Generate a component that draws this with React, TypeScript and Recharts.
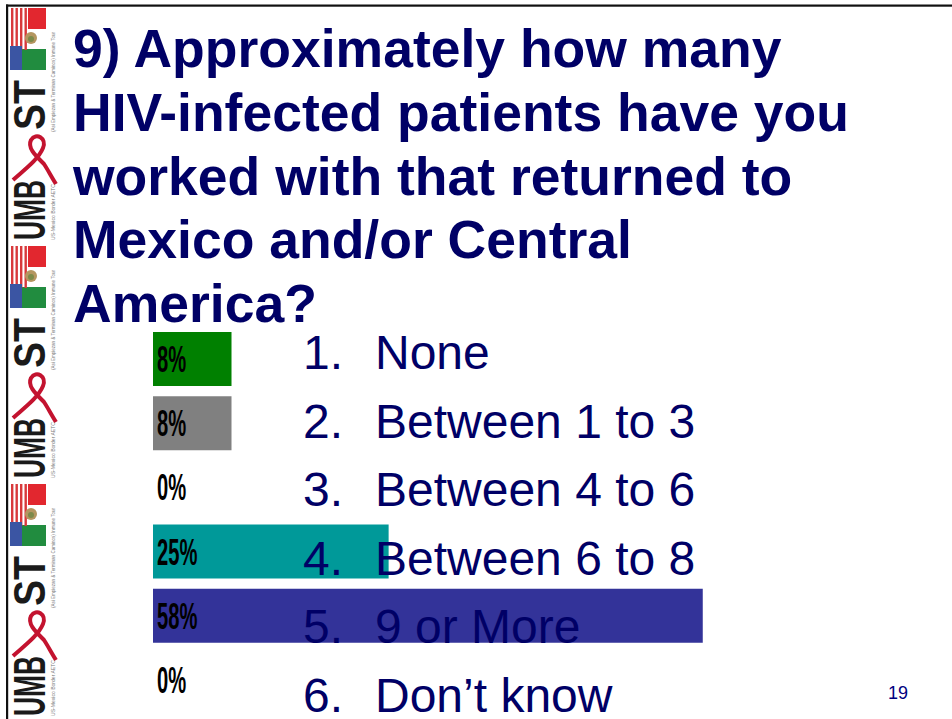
import React from "react";
import { BarChart, Bar, XAxis, YAxis, Cell } from "recharts";

const titleLines = [
  "9) Approximately how many",
  "HIV-infected patients have you",
  "worked with that returned to",
  "Mexico and/or Central",
  "America?",
];
const categories = [
  "None",
  "Between 1 to 3",
  "Between 4 to 6",
  "Between 6 to 8",
  "9 or More",
  "Don\u2019t know",
];
const itemNumbers = ["1.", "2.", "3.", "4.", "5.", "6."];
const percentValues = [8.33, 8.33, 0, 25, 58.33, 0];
const percentLabels = ["8%", "8%", "0%", "25%", "58%", "0%"];
const barColors = ["#008000", "#808080", "#808080", "#009999", "#333399", "#333399"];
const pageNumber = "19";

const data = categories.map((name, i) => ({
  name,
  value: percentValues[i],
  label: percentLabels[i],
}));

const NAVY = "#000066";
const PLOT_LEFT = 153;
const MARGIN = { top: 327, right: 45, bottom: 7 };

const PercentTick = (props: any) => {
  const y = Number(props.y);
  let idx = props.index;
  if (idx === undefined || idx === null) {
    const v = props.payload?.value;
    idx = Math.max(0, categories.indexOf(v));
  }
  const text = percentLabels[idx];
  return (
    <text
      transform={`translate(${PLOT_LEFT + 4},${y + 13}) scale(0.56,1)`}
      x={0}
      y={0}
      fontFamily="'Liberation Sans Narrow', 'Liberation Sans', Arial, sans-serif"
      fontWeight="bold"
      fontSize={36}
      fill="#000"
    >
      {text}
    </text>
  );
};

const LogoUnit = ({ o }: { o: number }) => {
  const stripes = [11, 15.5, 20, 24.5];
  return (
    <g>
      <rect x={10} y={o} width={36} height={62} fill="#fff" />
      <rect x={28} y={o} width={18} height={21} fill="#e2272f" />
      <rect x={22} y={o + 41} width={24} height={21} fill="#218c3f" />
      {stripes.map((sx) => (
        <rect key={sx} x={sx} y={o} width={2.4} height={42} fill="#d8393b" />
      ))}
      <rect x={10} y={o + 38} width={12} height={24} fill="#3b55a3" />
      <circle cx={31} cy={o + 30} r={6} fill="#b49660" />
      <circle cx={31} cy={o + 31} r={3} fill="#7d8a4a" />
      <text
        transform={`translate(45,${o + 122}) rotate(-90)`}
        fontFamily="'Liberation Sans Narrow', 'Liberation Sans', Arial, sans-serif"
        fontWeight="bold"
        fontSize={45}
        fill="#1a1a1a"
        textLength={50}
        lengthAdjust="spacingAndGlyphs"
      >
        ST
      </text>
      <text
        transform={`translate(45,${o + 232}) rotate(-90)`}
        fontFamily="'Liberation Sans Narrow', 'Liberation Sans', Arial, sans-serif"
        fontWeight="bold"
        fontSize={45}
        fill="#1a1a1a"
        textLength={60}
        lengthAdjust="spacingAndGlyphs"
      >
        UMB
      </text>
      <path
        d={`M 13 ${o + 172} C 24 ${o + 162}, 38 ${o + 152}, 43 ${o + 140} C 47 ${o + 130}, 36 ${o + 124}, 31 ${o + 132} C 27 ${o + 140}, 36 ${o + 148}, 44 ${o + 156} C 48 ${o + 162}, 52 ${o + 170}, 56 ${o + 176}`}
        stroke="#c3132f"
        strokeWidth={4}
        fill="none"
      />
      <text
        transform={`translate(55,${o + 124}) rotate(-90)`}
        fontFamily="'Liberation Sans', Arial, sans-serif"
        fontSize={4.5}
        fill="#777"
        textLength={100}
        lengthAdjust="spacingAndGlyphs"
      >
        (Asi Empiezan &amp; Terminan Caminos) Inmune Tour
      </text>
      <text
        transform={`translate(55,${o + 232}) rotate(-90)`}
        fontFamily="'Liberation Sans', Arial, sans-serif"
        fontSize={4.5}
        fill="#777"
        textLength={56}
        lengthAdjust="spacingAndGlyphs"
      >
        US-Mexico Border AETC
      </text>
    </g>
  );
};

export default function App() {
  return (
    <div
      style={{
        position: "absolute",
        left: 0,
        top: 0,
        width: 952,
        height: 719,
        background: "#fff",
        overflow: "hidden",
      }}
    >
      <div style={{ position: "absolute", left: 0, top: 0 }}>
        <BarChart
          width={952}
          height={719}
          data={data}
          layout="vertical"
          margin={{ ...MARGIN, left: PLOT_LEFT }}
        >
          <XAxis type="number" domain={[0, 80]} hide />
          <YAxis type="category" dataKey="name" hide />
          <Bar dataKey="value" barSize={54} isAnimationActive={false}>
            {data.map((d, i) => (
              <Cell key={d.name} fill={barColors[i]} />
            ))}
          </Bar>
        </BarChart>
      </div>
      <div style={{ position: "absolute", left: 0, top: 0, pointerEvents: "none" }}>
        <BarChart
          width={952}
          height={719}
          data={data}
          layout="vertical"
          margin={{ ...MARGIN, left: PLOT_LEFT - 20 }}
        >
          <XAxis type="number" domain={[0, 80]} hide />
          <YAxis
            type="category"
            dataKey="name"
            width={20}
            axisLine={false}
            tickLine={false}
            interval={0}
            tick={PercentTick}
          />
          <Bar dataKey="value" barSize={54} fillOpacity={0} isAnimationActive={false} />
        </BarChart>
      </div>
      <svg
        width={952}
        height={719}
        style={{ position: "absolute", left: 0, top: 0, pointerEvents: "none" }}
      >
        <rect x={6} y={4.5} width={946} height={2.2} fill="#111" />
        <rect x={6} y={4.5} width={2.2} height={715} fill="#111" />
        {[8, 246, 484].map((o) => (
          <LogoUnit key={o} o={o} />
        ))}
        {titleLines.map((t, i) => (
          <text
            key={t}
            x={73}
            y={67 + i * 63.8}
            fontFamily="'Liberation Sans', Arial, sans-serif"
            fontWeight="bold"
            fontSize={53.5}
            fill={NAVY}
          >
            {t}
          </text>
        ))}
        {categories.map((c, i) => (
          <g key={c}>
            <text
              x={303}
              y={369 + i * 68.6}
              fontFamily="'Liberation Sans', Arial, sans-serif"
              fontSize={48}
              fill={NAVY}
            >
              {itemNumbers[i]}
            </text>
            <text
              x={375}
              y={369 + i * 68.6}
              fontFamily="'Liberation Sans', Arial, sans-serif"
              fontSize={48}
              fill={NAVY}
            >
              {c}
            </text>
          </g>
        ))}
        <text
          x={888}
          y={699}
          fontFamily="'Liberation Sans', Arial, sans-serif"
          fontSize={18}
          fill="#000080"
        >
          {pageNumber}
        </text>
      </svg>
    </div>
  );
}
